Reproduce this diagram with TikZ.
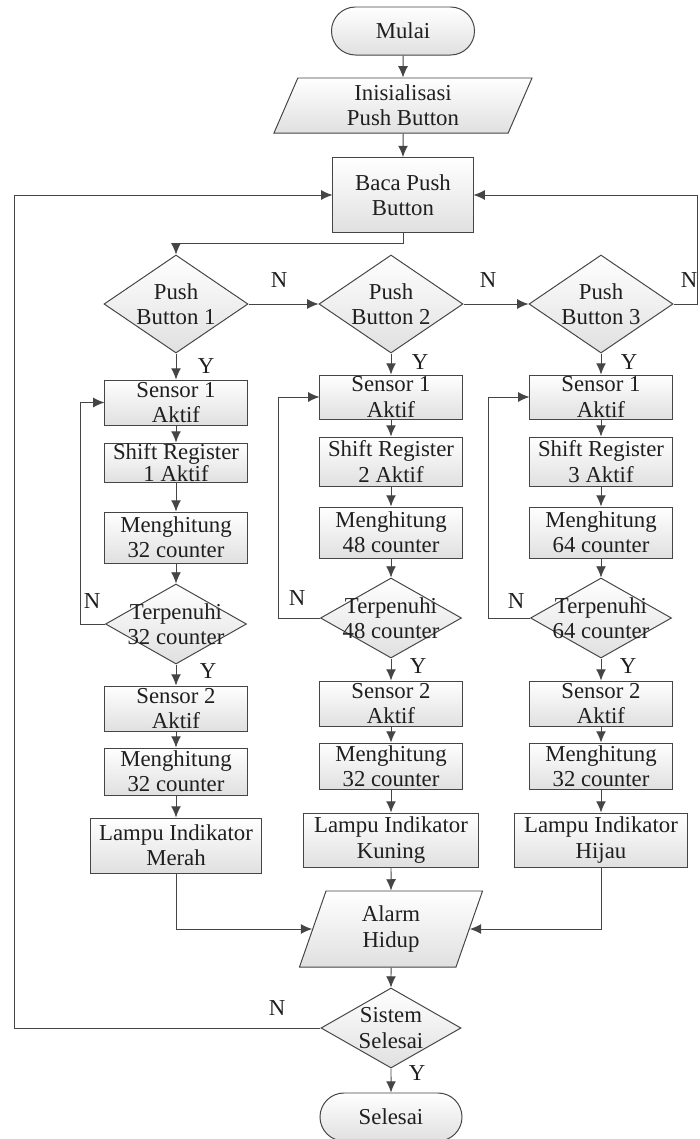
\documentclass[tikz,border=0pt]{standalone}
\usepackage{fontspec}
\setmainfont{Liberation Serif}
\usepackage{tikz}
\usetikzlibrary{arrows.meta,shapes.geometric,shapes.misc}

\definecolor{linegray}{HTML}{454545}
\definecolor{fillgray}{HTML}{E0E0E0}

\begin{document}
\begin{tikzpicture}[x=0.025cm,y=-0.025cm]
\tikzset{base/.style = {draw=linegray, line width=0.7pt, top color=white, bottom color=fillgray, inner sep=0pt, align=center, text=black!88, font=\fontsize{16.2}{18}\selectfont}}
\tikzset{block/.style = {base, shape=rectangle, minimum width=3.55cm}}
\tikzset{lamp/.style = {block, minimum width=4.3cm, minimum height=1.35cm}}
\tikzset{decision/.style = {base, shape=diamond, aspect=1.75, inner sep=-12pt, minimum width=3.525cm, minimum height=2cm}}
\tikzset{terminal/.style = {base, shape=rounded rectangle, minimum width=3.575cm, minimum height=1.2cm}}
\tikzset{io/.style = {base, trapezium, trapezium left angle=60, trapezium right angle=120, trapezium stretches body}}
\tikzset{answer/.style = {inner sep=0pt, text=black!88, font=\fontsize{16.2}{18}\selectfont}}
\tikzset{edge/.style = {->, > = {Latex[length=8pt,width=7pt]}, draw=linegray, line width=0.7pt}}

\useasboundingbox (0,0) rectangle (699,1139);

\node[terminal] (start) at (403,31) {Mulai};
\node[io, minimum width=6.45cm, minimum height=1.375cm] (init) at (403,105.5) {Inisialisasi\\Push Button};
\node[block, minimum width=3.5cm, minimum height=1.875cm] (read) at (403,195) {Baca Push\\Button};

\node[decision, aspect=1.47, minimum width=3.6cm, minimum height=2.45cm] (pb1) at (176,304) {Push\\Button 1};
\node[decision, aspect=1.47, minimum width=3.6cm, minimum height=2.45cm] (pb2) at (391,304) {Push\\Button 2};
\node[decision, aspect=1.47, minimum width=3.6cm, minimum height=2.45cm] (pb3) at (601,304) {Push\\Button 3};

\node[block, minimum height=1.125cm] (s11) at (176,402.5) {Sensor 1\\Aktif};
\node[block, minimum height=0.975cm, font=\fontsize{16.2}{14}\selectfont] (sr1) at (176,462.5) {Shift Register\\1 Aktif};
\node[block, minimum height=1.275cm] (mh1) at (176,537.5) {Menghitung\\32 counter};
\node[decision] (tp1) at (176,624) {Terpenuhi\\32 counter};
\node[block, minimum height=1.125cm] (s21) at (176,708.5) {Sensor 2\\Aktif};
\node[block, minimum height=1.175cm] (mc1) at (176,771.5) {Menghitung\\32 counter};
\node[lamp, minimum width=4.275cm, minimum height=1.375cm] (li1) at (176,845.5) {Lampu Indikator\\Merah};

\node[block, minimum height=1.1cm] (s12) at (391,397) {Sensor 1\\Aktif};
\node[block, minimum height=1.225cm] (sr2) at (391,461.5) {Shift Register\\2 Aktif};
\node[block, minimum height=1.275cm] (mh2) at (391,532.5) {Menghitung\\48 counter};
\node[decision] (tp2) at (391,618) {Terpenuhi\\48 counter};
\node[block, minimum height=1.125cm] (s22) at (391,703.5) {Sensor 2\\Aktif};
\node[block, minimum height=1.15cm] (mc2) at (391,766) {Menghitung\\32 counter};
\node[lamp, minimum width=4.35cm] (li2) at (391,840) {Lampu Indikator\\Kuning};

\node[block, minimum height=1.1cm] (s13) at (601,397) {Sensor 1\\Aktif};
\node[block, minimum height=1.225cm] (sr3) at (601,461.5) {Shift Register\\3 Aktif};
\node[block, minimum height=1.275cm] (mh3) at (601,532.5) {Menghitung\\64 counter};
\node[decision] (tp3) at (601,618) {Terpenuhi\\64 counter};
\node[block, minimum height=1.125cm] (s23) at (601,703.5) {Sensor 2\\Aktif};
\node[block, minimum height=1.15cm] (mc3) at (601,766) {Menghitung\\32 counter};
\node[lamp] (li3) at (601,840) {Lampu Indikator\\Hijau};

\node[io, minimum width=4.575cm, minimum height=1.9cm] (alarm) at (391,929) {Alarm\\Hidup};
\node[decision, minimum width=3.5cm] (done) at (391,1028) {Sistem\\Selesai};
\node[terminal, minimum width=3.55cm] (stop) at (391,1117) {Selesai};

\node[answer] (n1) at (279,280) {N};
\node[answer] (n2) at (488,280) {N};
\node[answer] (n3) at (689,280) {N};
\node[answer] (y1) at (206,366) {Y};
\node[answer] (y2) at (420,362) {Y};
\node[answer] (y3) at (629,362) {Y};
\node[answer] (n4) at (92,601) {N};
\node[answer] (n5) at (297,598) {N};
\node[answer] (n6) at (516,601) {N};
\node[answer] (y4) at (208,671) {Y};
\node[answer] (y5) at (418,666) {Y};
\node[answer] (y6) at (628,666) {Y};
\node[answer] (n7) at (277,1008) {N};
\node[answer] (y7) at (417,1073) {Y};

\coordinate (rd) at (403,243);
\coordinate (rr) at (697,304);
\coordinate (ll) at (14,1028);
\coordinate (l1) at (80,624);
\coordinate (l2) at (278,618);
\coordinate (l3) at (488,618);

\draw[edge] (start) to (init);
\draw[edge] (init) to (read);
\draw[edge] (read) -- (rd) -| (pb1);
\draw[edge] (pb1) to (pb2);
\draw[edge] (pb2) to (pb3);
\draw[edge] (pb3) -- (rr) |- (read);

\draw[edge] (pb1) to (s11);
\draw[edge] (s11) to (sr1);
\draw[edge] (sr1) to (mh1);
\draw[edge] (mh1) to (tp1);
\draw[edge] (tp1) -- (l1) |- (s11);
\draw[edge] (tp1) to (s21);
\draw[edge] (s21) to (mc1);
\draw[edge] (mc1) to (li1);
\draw[edge] (li1) |- (alarm);

\draw[edge] (pb2) to (s12);
\draw[edge] (s12) to (sr2);
\draw[edge] (sr2) to (mh2);
\draw[edge] (mh2) to (tp2);
\draw[edge] (tp2) -- (l2) |- (s12);
\draw[edge] (tp2) to (s22);
\draw[edge] (s22) to (mc2);
\draw[edge] (mc2) to (li2);
\draw[edge] (li2) to (alarm);

\draw[edge] (pb3) to (s13);
\draw[edge] (s13) to (sr3);
\draw[edge] (sr3) to (mh3);
\draw[edge] (mh3) to (tp3);
\draw[edge] (tp3) -- (l3) |- (s13);
\draw[edge] (tp3) to (s23);
\draw[edge] (s23) to (mc3);
\draw[edge] (mc3) to (li3);
\draw[edge] (li3) |- (alarm);

\draw[edge] (alarm) to (done);
\draw[edge] (done) to (stop);
\draw[edge] (done) -- (ll) |- (read);

\end{tikzpicture}
\end{document}
